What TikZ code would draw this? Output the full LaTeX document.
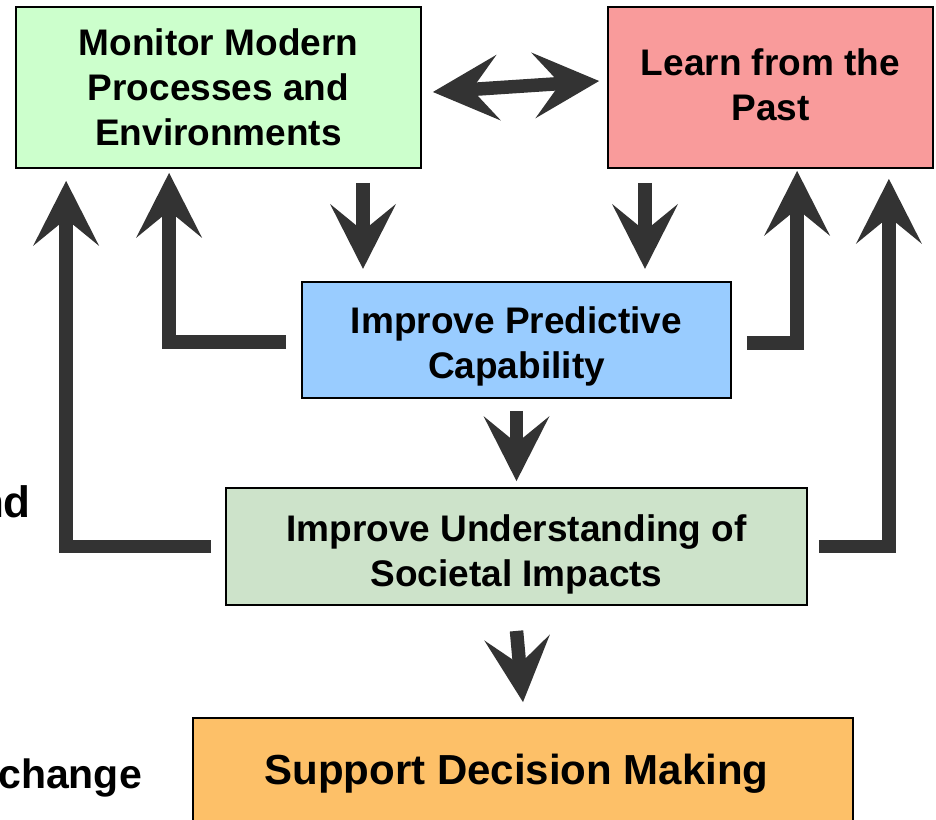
\documentclass[tikz,border=0pt]{standalone}
\usepackage{fontspec}
\setmainfont{Liberation Sans}
\usetikzlibrary{arrows.meta,calc}

\definecolor{monfill}{HTML}{CCFFCC}
\definecolor{pastfill}{HTML}{F99B9B}
\definecolor{predfill}{HTML}{99CCFF}
\definecolor{undfill}{HTML}{CDE3CA}
\definecolor{suppfill}{HTML}{FDC068}
\definecolor{arrowgray}{HTML}{333333}

\newcommand\diagfont{\bfseries\fontsize{37}{45}\selectfont}
\newcommand\bigdiagfont{\bfseries\fontsize{42}{48}\selectfont}

\begin{document}
\begin{tikzpicture}[x=1pt,y=-1pt,
  box/.style={draw=black, line width=1.8pt, inner sep=0pt},
  boxlabel/.style={inner sep=0pt, align=center, font=\diagfont},
  flow/.style={draw=arrowgray, line width=13.5pt, line join=miter, -{Stealth[length=65pt,width=66pt,inset=27pt,line width=0pt]}},
  twoway/.style={draw=arrowgray, line width=13.5pt,
    {Stealth[length=66pt,width=66pt,inset=27pt,line width=0pt]}-{Stealth[length=66pt,width=66pt,inset=27pt,line width=0pt]}},
  sidetext/.style={inner sep=0pt, anchor=base east}
]
\useasboundingbox (0,0) rectangle (936,819);
\clip (0,0) rectangle (936,819);

% boxes
\node[box, fill=monfill, minimum width=405pt, minimum height=161pt] (mon) at (218.5,87.5) {};
\node[box, fill=pastfill, minimum width=325pt, minimum height=161pt] (past) at (770.5,87.5) {};
\node[box, fill=predfill, minimum width=429pt, minimum height=116pt] (pred) at (516.5,340) {};
\node[box, fill=undfill, minimum width=581pt, minimum height=117pt] (und) at (516.5,546.5) {};
\node[box, fill=suppfill, minimum width=660pt, minimum height=110pt] (supp) at (523,773) {};

% box texts
\node[boxlabel] (monlabel) at (mon.center) {Monitor Modern\\Processes and\\Environments};
\node[boxlabel] (pastlabel) at ($(past.center)+(0,-3)$) {Learn from the\\Past};
\node[boxlabel] (predlabel) at ($(pred.center)+(0,6)$) {Improve Predictive\\Capability};
\node[boxlabel] (undlabel) at ($(und.center)+(0,8)$) {Improve Understanding of\\Societal Impacts};
\node[inner sep=0pt, anchor=base, font=\bigdiagfont] (supplabel) at ($(supp.north)+(-6.5,67)$) {Support Decision Making};

% partly visible side labels
\node[sidetext, font=\bfseries\fontsize{44}{48}\selectfont] (lbland) at (31,517) {nd};
\node[sidetext, font=\bfseries\fontsize{41}{48}\selectfont] (lblchange) at (142,788) {change};

% two-way link between the top boxes
\draw[twoway] ($(mon.east)+(11,4.5)$) -- ($(past.west)+(-8,-6.5)$);

% downward flow
\draw[flow] ($(mon.south)+(144.5,14)$) -- ($(mon.south)+(144.5,100)$);
\draw[flow] ($(past.south)+(-125.5,14)$) -- ($(past.south)+(-125.5,100)$);
\draw[flow] ($(pred.south)+(0,12)$) -- ($(und.north)+(0,-6)$);
\draw[flow] ($(und.south)+(0,25)$) -- ($(supp.north)+(0,-15)$);

% feedback loops
\draw[flow] ($(pred.west)+(-15,2)$) -| ($(mon.south west)+(154,4)$);
\draw[flow] ($(und.west)+(-14,0)$) -| ($(mon.south west)+(51,12)$);
\draw[flow] ($(pred.east)+(15,3)$) -| ($(past.south west)+(190,2)$);
\draw[flow] ($(und.east)+(11,0)$) -| ($(past.south east)+(-45,10)$);
\end{tikzpicture}
\end{document}
